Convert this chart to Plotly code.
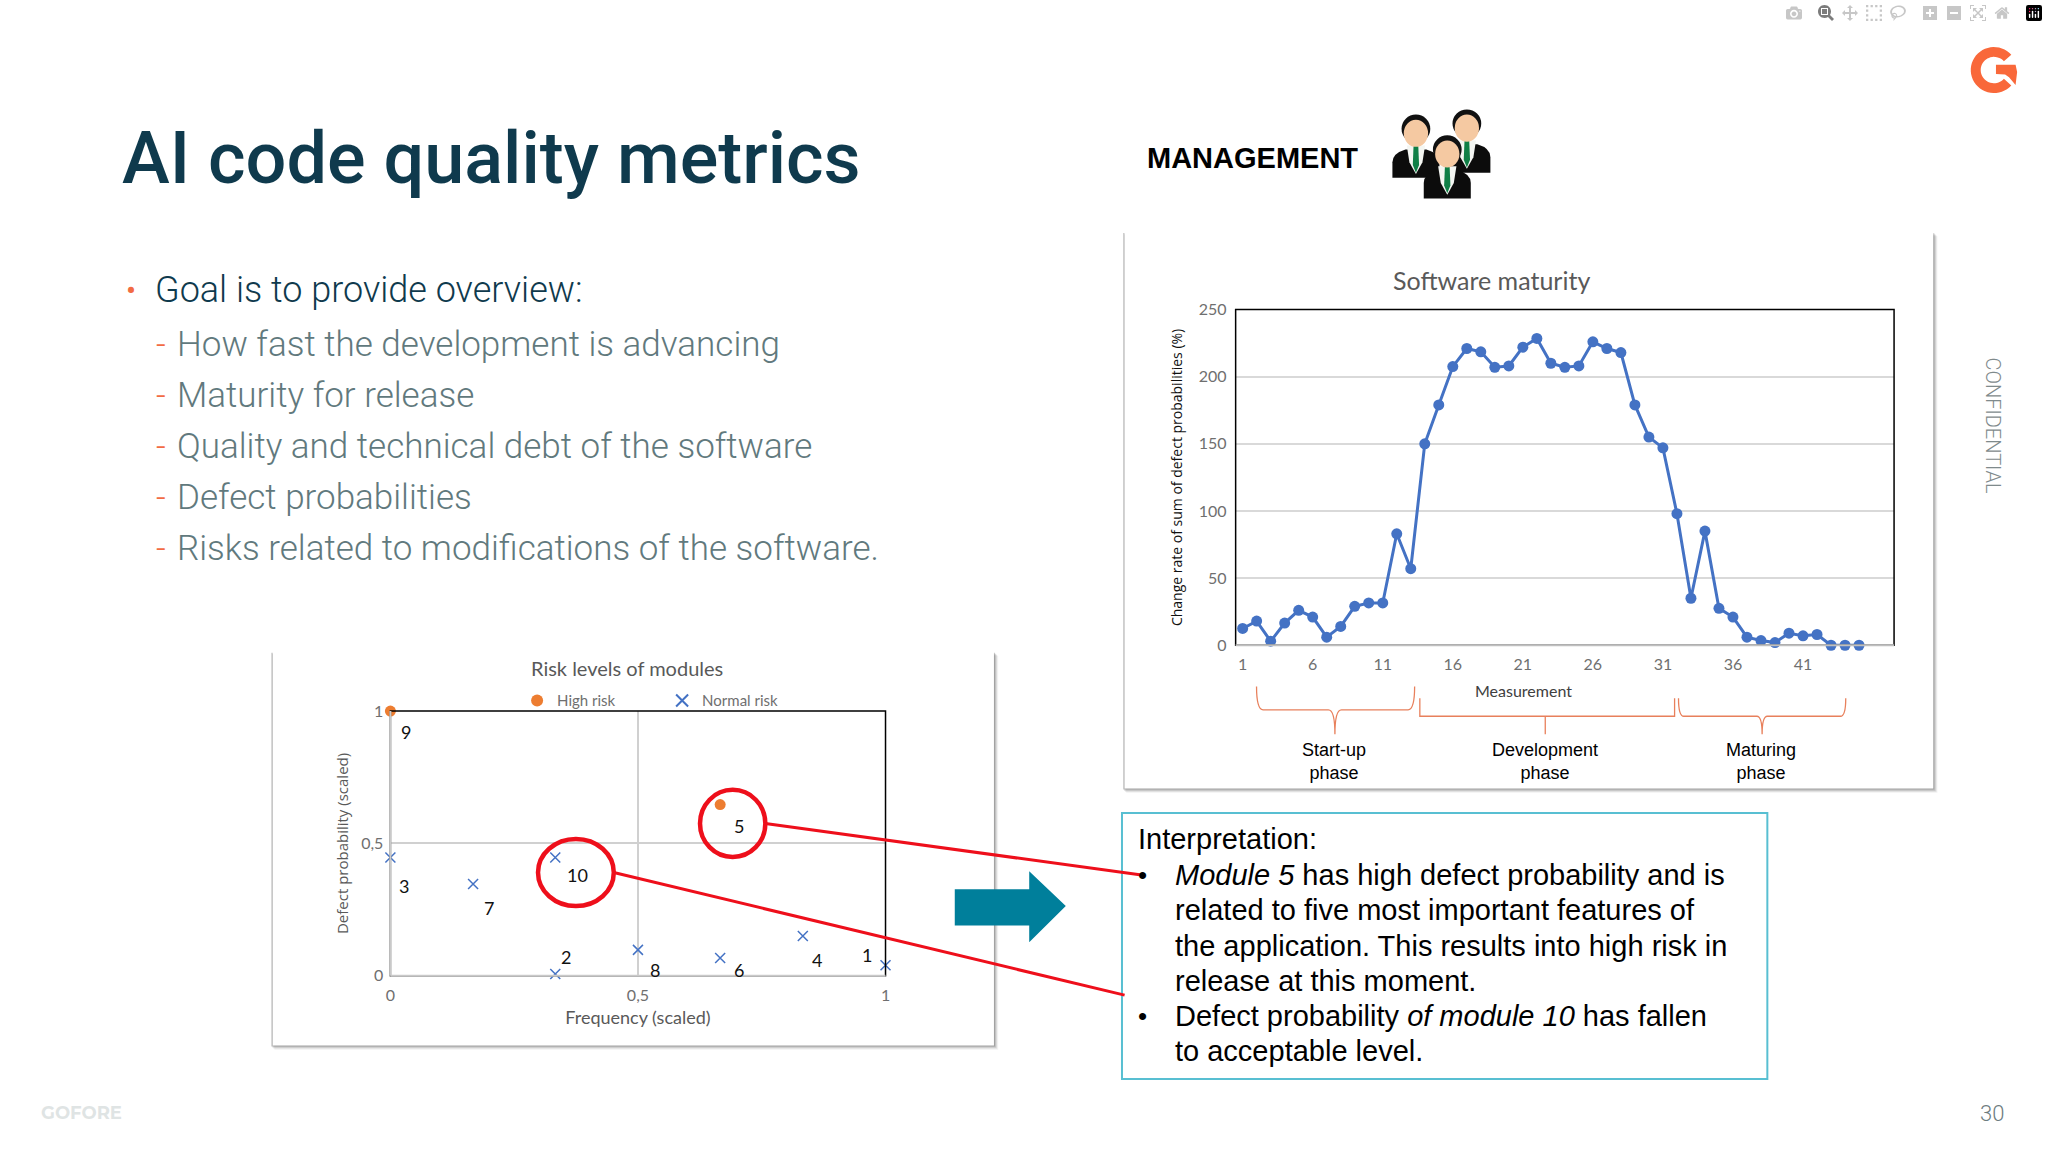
import numpy as np
import plotly.graph_objects as go

# software maturity chart
measurement = list(range(1, 46))
change_rate = [12.5, 18, 3, 16.5, 26, 21, 6, 14, 29, 31.5, 31.5, 83, 57, 150, 179, 207.5, 221, 218.5, 207, 208,
               222, 228.5, 210, 207, 208, 226, 221, 218, 179, 155, 147, 98, 35, 85, 27.5, 21, 6, 3.5, 2, 9,
               7, 8, 0, 0, 0]
maturity_ticks = [1, 6, 11, 16, 21, 26, 31, 36, 41]
maturity_y_ticks = [0, 50, 100, 150, 200, 250]

# risk levels chart
high_ids = ["9", "5"]
high_freq = [0, 0.666]
high_prob = [1, 0.647]
normal_ids = ["1", "2", "3", "4", "6", "7", "8", "10"]
normal_freq = [1, 0.333, 0, 0.833, 0.666, 0.167, 0.5, 0.333]
normal_prob = [0.04, 0.007, 0.447, 0.15, 0.067, 0.347, 0.098, 0.447]
risk_ticks = [0, 0.5, 1]
risk_tick_text = ["0", "0,5", "1"]

# slide texts
title_text = "AI code quality metrics"
goal_text = "Goal is to provide overview:"
goal_items = ["How fast the development is advancing", "Maturity for release",
              "Quality and technical debt of the software", "Defect probabilities",
              "Risks related to modifications of the software."]
interpretation = ["<i>Module 5</i> has high defect probability and is",
                  "related to five most important features of",
                  "the application. This results into high risk in",
                  "release at this moment.",
                  "Defect probability <i>of module 10</i> has fallen",
                  "to acceptable level."]

K = 2048 / 1560  # positions below were measured on a 1560 wide view


def px(v):
    return v * K / 2048


def py(v):
    return 1 - v * K / 1152


def path(points, close=False):
    # points in measured coords -> svg path in paper coords
    s = "M " + " L ".join(f"{px(a):.5f},{py(b):.5f}" for a, b in points)
    return s + (" Z" if close else "")


def curve(*parts):
    s = ""
    for cmd, pts in parts:
        s += cmd + " " + " ".join(f"{px(a):.5f},{py(b):.5f}" for a, b in pts) + " "
    return s.strip()


def text(x, y, t, size, color, family="Roboto", anchor="left", weight=None, angle=0):
    return dict(xref="paper", yref="paper", x=px(x), y=py(y), text=t, showarrow=False, xanchor=anchor,
                yanchor="middle", textangle=angle, font=dict(size=size, color=color, family=family, weight=weight))


shapes = []
annots = []


def add_shape(**kw):
    shapes.append(dict(xref="paper", yref="paper", **kw))


def rect(x0, y0, x1, y1, **kw):
    add_shape(type="rect", x0=px(x0), y0=py(y0), x1=px(x1), y1=py(y1), **kw)


# panels with soft shadow
for x0, y0, x1, y1 in [(857, 172, 1476, 603), (205, 497, 757, 802)]:
    for off, op in [(3.2, 0.08), (2.4, 0.14), (1.6, 0.2), (0.8, 0.3)]:
        rect(x0 + off - 2, y0 + off, x1 + off, y1 + off, fillcolor=f"rgba(90,90,90,{op})",
             line_width=0, layer="below")
    rect(x0, y0, x1, y1, fillcolor="white", line_width=0, layer="below")

# chart frames
rect(942, 232, 1446, 492, line=dict(color="black", width=1.5), layer="above")
shapes.append(dict(xref="paper", yref="paper", type="line", x0=px(942), x1=px(1446), y0=py(492), y1=py(492),
                   line=dict(color="#bfbfbf", width=2), layer="above"))
rect(295, 543, 674, 748, line=dict(color="black", width=1.5), layer="above")
for a, b, c, d in [(295, 748, 674, 748), (295, 543, 295, 748)]:
    shapes.append(dict(xref="paper", yref="paper", type="line", x0=px(a), x1=px(c), y0=py(b), y1=py(d),
                       line=dict(color="#c9c9c9", width=2), layer="above"))

# phase brackets
brace = dict(color="#e8805c", width=1.3)
add_shape(type="path", line=brace, path=curve(
    ("M", [(958, 524)]), ("Q", [(958, 542), (963, 542)]), ("L", [(1013, 542)]), ("Q", [(1018, 542), (1018, 561)]),
    ("Q", [(1018, 542), (1023, 542)]), ("L", [(1074, 542)]), ("Q", [(1079, 542), (1079, 524)])))
add_shape(type="path", line=brace, path=path([(1083, 533), (1083, 547), (1179, 547), (1179, 561), (1179, 547),
                                              (1278, 547), (1278, 533)]))
add_shape(type="path", line=brace, path=curve(
    ("M", [(1281, 533)]), ("Q", [(1281, 547), (1285, 547)]), ("L", [(1341, 547)]), ("Q", [(1345, 547), (1345, 561)]),
    ("Q", [(1345, 547), (1349, 547)]), ("L", [(1405, 547)]), ("Q", [(1409, 547), (1409, 533)])))

# interpretation box
rect(855, 622, 1349, 828, line=dict(color="#58bfd2", width=2), fillcolor="white", layer="below")

# red highlights
red = dict(color="#ee0f1b", width=3)
rect(532, 604, 582, 656, type="circle", line=dict(color="#ee0f1b", width=4), layer="above") if False else None
add_shape(type="circle", x0=px(532), x1=px(582), y0=py(604), y1=py(656), line=dict(color="#ee0f1b", width=4.5))
add_shape(type="circle", x0=px(408), x1=px(466), y0=py(642), y1=py(694), line=dict(color="#ee0f1b", width=4.5))
add_shape(type="line", x0=px(582), y0=py(630), x1=px(870), y1=py(670), line=red)
add_shape(type="line", x0=px(466), y0=py(668), x1=px(857), y1=py(763), line=red)

# big arrow
add_shape(type="path", fillcolor="#007f9b", line_width=0,
          path=path([(727, 681), (784, 681), (784, 667), (812, 694), (784, 722), (784, 709), (727, 709)], True))


# G logo
def ring(cx, cy, r0, r1, a0, a1):
    a = np.radians(np.linspace(a0, a1, 40))
    outer = [(cx + r1 * np.cos(t), cy - r1 * np.sin(t)) for t in a]
    inner = [(cx + r0 * np.cos(t), cy - r0 * np.sin(t)) for t in a[::-1]]
    return outer + inner


add_shape(type="path", fillcolor="#f9683a", line_width=0, path=path(ring(1522.5, 46.5, 10.2, 17.8, 42, 318), True))
add_shape(type="path", fillcolor="#f9683a", line_width=0,
          path=path([(1524, 42.5), (1539, 42.5), (1540.2, 48), (1539, 58), (1534, 52), (1531, 50), (1524, 49.5)], True))


# management people
def person(cx, cy):
    add_shape(type="path", fillcolor="#0c0c0c", line_width=0, path=curve(
        ("M", [(cx - 18, cy + 36)]), ("L", [(cx - 18, cy + 24)]), ("Q", [(cx - 18, cy + 17), (cx - 8, cy + 14)]),
        ("L", [(cx + 8, cy + 14)]), ("Q", [(cx + 18, cy + 17), (cx + 18, cy + 24)]), ("L", [(cx + 18, cy + 36)]),
        ("L", [(cx - 18, cy + 36)])))
    add_shape(type="path", fillcolor="#f4f6f2", line_width=0,
              path=path([(cx - 7, cy + 11), (cx + 7, cy + 11), (cx + 5, cy + 24), (cx, cy + 33), (cx - 5, cy + 24)], True))
    add_shape(type="path", fillcolor="#0f7f46", line_width=0,
              path=path([(cx - 1.8, cy + 11), (cx + 1.8, cy + 11), (cx + 2.4, cy + 26), (cx, cy + 32), (cx - 2.4, cy + 26)], True))
    add_shape(type="circle", fillcolor="#111111", line_width=0, x0=px(cx - 11), x1=px(cx + 11), y0=py(cy - 13), y1=py(cy + 9))
    add_shape(type="circle", fillcolor="#f5c9a2", line_width=0, x0=px(cx - 9.3), x1=px(cx + 9.3), y0=py(cy - 9), y1=py(cy + 12))


person(1119, 90)
person(1080, 94)
person(1104, 110)

# slide text
annots.append(text(88, 115, title_text, 72, "#0f3a4d", "Roboto", weight=500))
annots.append(text(91, 217, "•", 30, "#f26b43"))
annots.append(text(113, 217, goal_text, 36, "#0f3a4d", "Roboto", weight=300))
for i, item in enumerate(goal_items):
    y = 259 + i * 39.5
    annots.append(text(114, y, "-", 34, "#f26b43", "Roboto", weight=300))
    annots.append(text(130, y, item, 35, "#61797d", "Roboto", weight=300))
annots.append(text(873, 115, "MANAGEMENT", 29, "#000000", "Liberation Sans", weight=700))
annots.append(text(1522, 322, "CONFIDENTIAL", 20, "#7f8a8c", "Roboto", "center", 300, 90))
annots.append(text(1521, 855, "30", 22, "#6d7c80", "Roboto", "center", 300))
annots.append(text(26, 854, "GOFORE", 18, "#dfe4e4", "Montserrat, Inter", weight=700))

# chart titles and small labels
grey = "#595959"
annots.append(text(1138, 209, "Software maturity", 25, grey, "Lato", "center"))
annots.append(text(1162, 527, "Measurement", 16, "#404040", "Lato", "center"))
annots.append(text(476, 510, "Risk levels of modules", 20, grey, "Lato", "center"))
for x, lab in [(1017, "Start-up<br>phase"), (1179, "Development<br>phase"), (1344, "Maturing<br>phase")]:
    annots.append(text(x, 582, lab, 18, "#000000", "Liberation Sans", "center"))

# interpretation text
annots.append(text(866, 642, "Interpretation:", 29, "#000000", "Liberation Sans"))
for i, line in enumerate(interpretation):
    annots.append(text(894, 670 + i * 27.3, line, 29, "#000000", "Liberation Sans"))
annots.append(text(871, 670, "•", 26, "#000000", "Liberation Sans", "center"))
annots.append(text(871, 779, "•", 26, "#000000", "Liberation Sans", "center"))

# module numbers next to the markers (pixel shift from marker)
label_shift = {"9": (12, -16), "5": (14, -16), "1": (-14, 8), "2": (8, 13), "3": (10, -22), "4": (11, -18),
               "6": (14, -9), "7": (12, -18), "8": (13, -15), "10": (17, -13)}
all_ids = high_ids + normal_ids
all_x = high_freq + normal_freq
all_y = high_prob + normal_prob
for mod, fx, fy in zip(all_ids, all_x, all_y):
    dx, dy = label_shift[mod]
    annots.append(dict(xref="x2", yref="y2", x=fx, y=fy, text=mod, showarrow=False, xshift=dx * K, yshift=dy * K,
                       font=dict(size=18, color="#111111", family="Lato")))

fig = go.Figure()
fig.add_trace(go.Scatter(x=measurement, y=change_rate, mode="lines+markers", xaxis="x", yaxis="y", showlegend=False,
                         line=dict(color="#4472c4", width=3), marker=dict(color="#4472c4", size=11), cliponaxis=False))
fig.add_trace(go.Scatter(x=high_freq, y=high_prob, mode="markers", name="High risk", xaxis="x2", yaxis="y2",
                         marker=dict(color="#ed7d31", size=11), cliponaxis=False))
fig.add_trace(go.Scatter(x=normal_freq, y=normal_prob, mode="markers", name="Normal risk", xaxis="x2", yaxis="y2",
                         marker=dict(color="#4472c4", size=10, symbol="x-thin", line=dict(color="#4472c4", width=1.5)),
                         cliponaxis=False))

tick_font = dict(size=16, color="#6f6f6f", family="Lato")
fig.update_layout(
    width=2048, height=1152, margin=dict(l=0, r=0, t=0, b=0), paper_bgcolor="white", plot_bgcolor="rgba(0,0,0,0)",
    shapes=shapes, annotations=annots,
    xaxis=dict(domain=[px(942), px(1446)], anchor="y", range=[0.5, 47.5], tickmode="array", tickvals=maturity_ticks,
               showgrid=False, zeroline=False, ticks="", tickfont=tick_font, ticklabelstandoff=8),
    yaxis=dict(domain=[py(492), py(232)], anchor="x", range=[0, 250], tickmode="array", tickvals=maturity_y_ticks,
               gridcolor="#d9d9d9", gridwidth=1.5, zeroline=False, ticks="", tickfont=tick_font, ticklabelstandoff=8,
               title=dict(text="Change rate of sum of defect probabilities (%)", standoff=12,
                          font=dict(size=14, color="#111111", family="Open Sans"))),
    xaxis2=dict(domain=[px(295), px(674)], anchor="y2", range=[0, 1], tickmode="array", tickvals=risk_ticks,
                ticktext=risk_tick_text, gridcolor="#d0d0d0", gridwidth=1.5, zeroline=False, ticks="", tickfont=tick_font,
                ticklabelstandoff=8,
                title=dict(text="Frequency (scaled)", standoff=8, font=dict(size=18, color=grey, family="Lato"))),
    yaxis2=dict(domain=[py(748), py(543)], anchor="x2", range=[0, 1], tickmode="array", tickvals=risk_ticks,
                ticktext=risk_tick_text, gridcolor="#d0d0d0", gridwidth=1.5, zeroline=False, ticks="", tickfont=tick_font,
                ticklabelstandoff=6,
                title=dict(text="Defect probability (scaled)", standoff=8,
                           font=dict(size=15, color=grey, family="Open Sans"))),
    legend=dict(orientation="h", x=px(392), y=py(535), xanchor="left", yanchor="middle", bgcolor="rgba(0,0,0,0)",
                entrywidth=100, entrywidthmode="pixels", font=dict(size=15, color="#6f6f6f", family="Lato"),
                itemsizing="constant"),
)

fig.write_html("out.html", post_script="document.body.style.margin='0';")
